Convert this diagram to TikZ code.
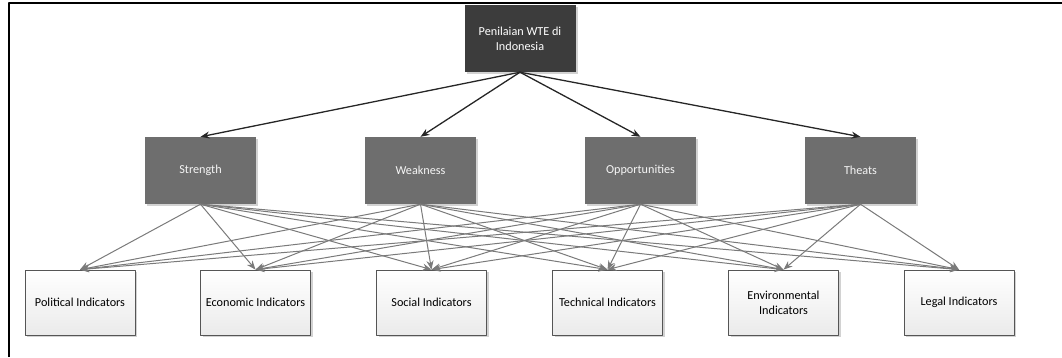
\documentclass[tikz,border=0pt]{standalone}
\usepackage{fontspec}
\setmainfont{Carlito}
\usetikzlibrary{arrows.meta,shadows}

\definecolor{topgray}{HTML}{3C3C3C}
\definecolor{midgray}{HTML}{6E6E6E}
\definecolor{linegray}{HTML}{7A7A7A}
\definecolor{boxedge}{HTML}{555555}
\definecolor{shadegray}{HTML}{D2D2D2}

\tikzset{
  myshadow/.style={drop shadow={shadow xshift=2pt, shadow yshift=-2pt, fill=shadegray, opacity=1}},
  topbox/.style={fill=topgray, text=white, minimum width=111pt, minimum height=67pt, align=center, myshadow},
  swotbox/.style={fill=midgray, text=white!92!gray, minimum width=111pt, minimum height=67pt, align=center, myshadow},
  indbox/.style={draw=boxedge, line width=0.8pt, top color=white, bottom color=black!8, minimum width=110pt, minimum height=65pt, align=center, myshadow},
  blackarrow/.style={-{Stealth[length=9pt,width=7pt]}, line width=1.3pt, black!85},
  grayarrow/.style={-{Stealth[length=9pt,width=7pt]}, line width=1pt, linegray},
}

\begin{document}
\begin{tikzpicture}[x=1pt, y=-1pt, line cap=round, line join=round, font=\fontsize{12.2}{15}\selectfont]
    \useasboundingbox (0,0) rectangle (1062,357);

    % 枠線(上と左だけ見えている)
    \draw[line width=1.7pt, line cap=butt] (8.8,357) -- (8.8,3) -- (1062,3);

    % 一番上のノード
    \node[topbox] (pwte) at (520,38.5) {Penilaian WTE di\\Indonesia};

    % SWOT の四つのノード
    \node[swotbox] (str) at (200.5,170.5) {Strength};
    \node[swotbox] (wk)  at (420.5,170.5) {Weakness};
    \node[swotbox] (opp) at (640.5,170.5) {Opportunities};
    \node[swotbox] (thr) at (860.5,170.5) {Theats};

    % 指標のノード
    \node[indbox] (pol) at (80,302.5)    {Political Indicators};
    \node[indbox] (eco) at (255.5,302.5) {Economic Indicators};
    \node[indbox] (soc) at (431.5,302.5) {Social Indicators};
    \node[indbox] (tec) at (607.5,302.5) {Technical Indicators};
    \node[indbox] (env) at (783.5,302.5) {Environmental\\Indicators};
    \node[indbox] (leg) at (959,302.5)   {Legal Indicators};

    % 上から SWOT への黒い矢印
    \foreach \m in {str,wk,opp,thr}
        \draw[blackarrow] (pwte.south) -- (\m.north);

    % SWOT から各指標への灰色の矢印
    \foreach \m in {str,wk,opp,thr}
        \foreach \b in {pol,eco,soc,tec,env,leg}
            \draw[grayarrow] (\m.south) -- (\b.north);
\end{tikzpicture}
\end{document}
